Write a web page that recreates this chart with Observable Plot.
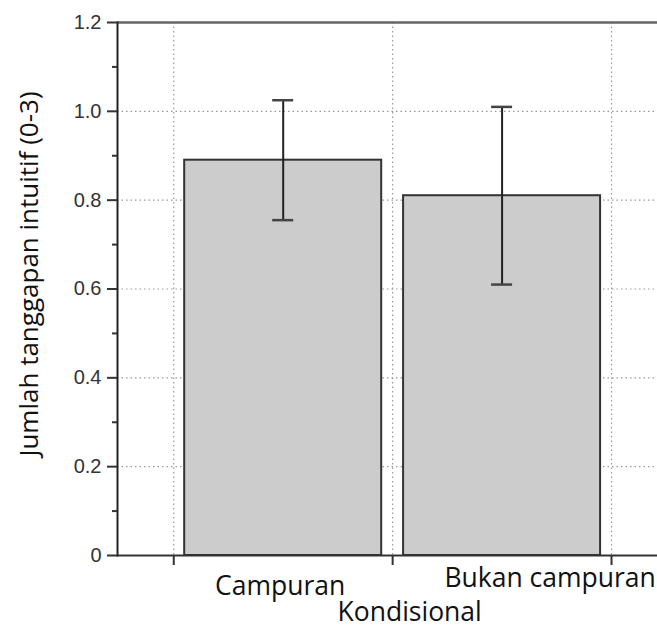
<!DOCTYPE html>
<html>
<head>
<meta charset="utf-8">
<script src="https://cdn.jsdelivr.net/npm/d3@7"></script>
<script src="https://cdn.jsdelivr.net/npm/@observablehq/plot@0.6"></script>
<style>
  html, body { margin: 0; padding: 0; background: #fff; }
  #chart { width: 657px; height: 629px; }
</style>
</head>
<body>
<div id="chart"></div>
<script>
// ---- data ----
const categories = ["Campuran", "Bukan campuran"];
const means = [0.89, 0.81];
const errLow = [0.755, 0.61];
const errHigh = [1.025, 1.01];
const yTicks = [0, 0.2, 0.4, 0.6, 0.8, 1.0, 1.2];
const yMinorTicks = [0.1, 0.3, 0.5, 0.7, 0.9, 1.1];
const xTicks = [0.5, 1.5, 2.5];
const yLabel = "Jumlah tanggapan intuitif (0-3)";
const xLabel = "Kondisional";

const rows = categories.map((c, i) => ({
  cat: c, pos: i + 1, mean: means[i], lo: errLow[i], hi: errHigh[i]
}));

const halfBar = 0.45;
const halfCap = 0.048;
const dotted = "1.5,3";
const labelFont = "Open Sans";

const chart = Plot.plot({
  width: 657,
  height: 629,
  marginLeft: 117,
  marginRight: 0,
  marginTop: 22,
  marginBottom: 74,
  style: { fontFamily: "Liberation Sans", color: "#222", background: "#fff" },
  x: { type: "linear", domain: [0.243, 2.71] },
  y: { domain: [0, 1.2] },
  marks: [
    // grid
    Plot.ruleY(yTicks.filter(t => t > 0 && t < 1.2), { stroke: "#999", strokeDasharray: dotted, strokeWidth: 1.2 }),
    Plot.ruleX(xTicks, { stroke: "#999", strokeDasharray: dotted, strokeWidth: 1.2 }),
    // bars
    Plot.rect(rows, {
      x1: d => d.pos - halfBar, x2: d => d.pos + halfBar,
      y1: 0, y2: "mean",
      fill: "#cccccc", stroke: "#333", strokeWidth: 2
    }),
    // error bars
    Plot.ruleX(rows, { x: "pos", y1: "lo", y2: "hi", stroke: "#222", strokeWidth: 2 }),
    Plot.ruleY(rows, { y: "hi", x1: d => d.pos - halfCap, x2: d => d.pos + halfCap, stroke: "#444", strokeWidth: 2.5 }),
    Plot.ruleY(rows, { y: "lo", x1: d => d.pos - halfCap, x2: d => d.pos + halfCap, stroke: "#444", strokeWidth: 2.5 }),
    // frame lines
    Plot.ruleY([1.2], { stroke: "#666", strokeWidth: 2.5 }),
    Plot.ruleY([0], { stroke: "#333", strokeWidth: 2 }),
    Plot.frame({ anchor: "left", stroke: "#222", strokeWidth: 2 }),
    // axes
    Plot.axisY({
      ticks: yTicks, tickSize: 10, tickPadding: 6, fontSize: 20,
      tickFormat: d => d === 0 ? "0" : d3.format(".1f")(d),
      label: null, strokeWidth: 2, stroke: "#333", fill: "#333"
    }),
    Plot.axisY({ ticks: yMinorTicks, tickSize: 5, tickFormat: () => "", label: null, strokeWidth: 2, stroke: "#333" }),
    Plot.axisX({ ticks: xTicks, tickSize: 10, tickFormat: () => "", label: null, strokeWidth: 2, stroke: "#333" }),
    // x category labels
    Plot.text(rows.filter((d, i) => i === 0), {
      x: "pos", y: () => 0, text: "cat", dy: 31, dx: -3,
      fontFamily: labelFont, fontSize: 26.5, fill: "#111"
    }),
    Plot.text(rows.filter((d, i) => i === 1), {
      x: "pos", y: () => 0, text: "cat", dy: 23, dx: 48,
      fontFamily: labelFont, fontSize: 26.5, fill: "#111"
    }),
    // x title
    Plot.text([xLabel], {
      x: () => 1.5, y: () => 0, text: d => d, dy: 57, dx: 17,
      fontFamily: labelFont, fontSize: 26.5, fill: "#111"
    }),
    // y title
    Plot.text([yLabel], {
      frameAnchor: "left", textAnchor: "middle", text: d => d, rotate: -90, dx: -88, dy: -15,
      fontFamily: labelFont, fontSize: 26, fill: "#111"
    })
  ]
});

document.getElementById("chart").appendChild(chart);
</script>
</body>
</html>
